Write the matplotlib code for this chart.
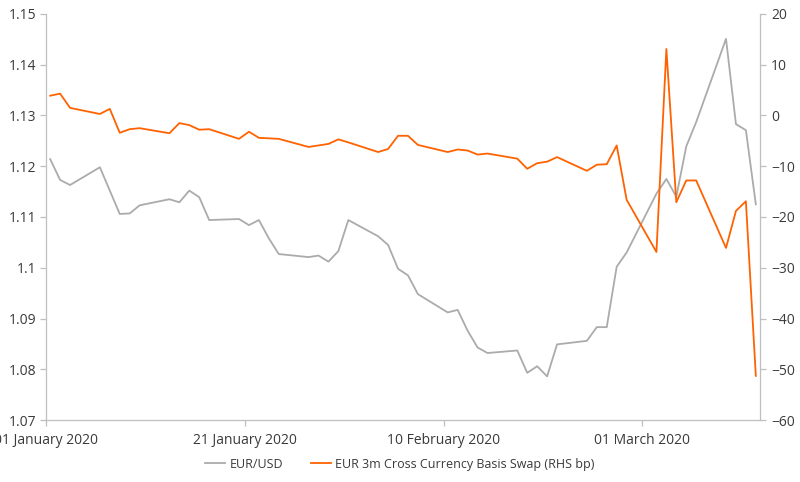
import matplotlib
matplotlib.use("Agg")
import matplotlib.pyplot as plt
import matplotlib.dates as mdates
import numpy as np
import datetime as dt

plt.rcParams['font.family'] = ['Open Sans', 'DejaVu Sans']

dates = [
    "2020-01-01", "2020-01-02", "2020-01-03",
    "2020-01-06", "2020-01-07", "2020-01-08", "2020-01-09", "2020-01-10",
    "2020-01-13", "2020-01-14", "2020-01-15", "2020-01-16", "2020-01-17",
    "2020-01-20", "2020-01-21", "2020-01-22", "2020-01-23", "2020-01-24",
    "2020-01-27", "2020-01-28", "2020-01-29", "2020-01-30", "2020-01-31",
    "2020-02-03", "2020-02-04", "2020-02-05", "2020-02-06", "2020-02-07",
    "2020-02-10", "2020-02-11", "2020-02-12", "2020-02-13", "2020-02-14",
    "2020-02-17", "2020-02-18", "2020-02-19", "2020-02-20", "2020-02-21",
    "2020-02-24", "2020-02-25", "2020-02-26", "2020-02-27", "2020-02-28",
    "2020-03-02", "2020-03-03", "2020-03-04", "2020-03-05", "2020-03-06",
    "2020-03-09", "2020-03-10", "2020-03-11", "2020-03-12",
]

eurusd = [
    1.1214, 1.1173, 1.1163,
    1.1198, 1.1152, 1.1106, 1.1107, 1.1123,
    1.1135, 1.1129, 1.1152, 1.1139, 1.1094,
    1.1096, 1.1084, 1.1094, 1.1058, 1.1027,
    1.1021, 1.1024, 1.1012, 1.1033, 1.1094,
    1.1062, 1.1045, 1.0998, 1.0985, 1.0948,
    1.0912, 1.0917, 1.0876, 1.0843, 1.0832,
    1.0837, 1.0793, 1.0806, 1.0786, 1.0849,
    1.0856, 1.0883, 1.0883, 1.1002, 1.1030,
    1.1146, 1.1175, 1.1140, 1.1239, 1.1287,
    1.1451, 1.1283, 1.1271, 1.1125,
]

basis = [
    3.9, 4.3, 1.5,
    0.3, 1.3, -3.4, -2.7, -2.5,
    -3.5, -1.5, -1.9, -2.8, -2.7,
    -4.6, -3.2, -4.4, -4.5, -4.6,
    -6.2, -5.9, -5.6, -4.7, -5.3,
    -7.2, -6.6, -4.0, -4.0, -5.8,
    -7.2, -6.7, -6.9, -7.7, -7.5,
    -8.5, -10.5, -9.4, -9.1, -8.2,
    -10.9, -9.7, -9.6, -5.9, -16.6,
    -26.9, 13.1, -17.1, -12.8, -12.8,
    -26.1, -18.8, -16.9, -51.3,
]

xtick_dates = ["2020-01-01", "2020-01-21", "2020-02-10", "2020-03-01"]
left_ticks = [1.07, 1.08, 1.09, 1.10, 1.11, 1.12, 1.13, 1.14, 1.15]
left_labels = ["1.07", "1.08", "1.09", "1.1", "1.11", "1.12", "1.13", "1.14", "1.15"]
right_ticks = [-60, -50, -40, -30, -20, -10, 0, 10, 20]

GREY = "#ababab"
ORANGE = "#ff6200"
SPINE = "#bfbfbf"
TXT = "#3a3a3a"

x = mdates.date2num([dt.datetime.strptime(d, "%Y-%m-%d") for d in dates])
xt = mdates.date2num([dt.datetime.strptime(d, "%Y-%m-%d") for d in xtick_dates]) - 0.42

fig = plt.figure(figsize=(8, 4.82), dpi=100)
ax = fig.add_axes([0.0575, 0.1286, 0.8925, 0.8424])
ax2 = ax.twinx()

l1, = ax.plot(x, eurusd, color=GREY, lw=1.3, label="EUR/USD")
l2, = ax2.plot(x, basis, color=ORANGE, lw=1.3, label="EUR 3m Cross Currency Basis Swap (RHS bp)")

ax.set_xlim(x[0] - 0.42, x[-1] + 0.42)
ax.set_ylim(1.07, 1.15)
ax2.set_ylim(-60, 20)

ax.set_xticks(xt)
ax.set_xticklabels([dt.datetime.strptime(d, "%Y-%m-%d").strftime("%d %B %Y") for d in xtick_dates])
ax.set_yticks(left_ticks)
ax.set_yticklabels(left_labels)
ax2.set_yticks(right_ticks)

for a in (ax, ax2):
    a.spines['top'].set_visible(False)
    for s in ('left', 'right', 'bottom'):
        a.spines[s].set_color(SPINE)
        a.spines[s].set_linewidth(0.9)
    a.tick_params(colors=SPINE, labelcolor=TXT, labelsize=10, length=4, width=0.9)
ax.spines['right'].set_visible(False)
ax2.spines['left'].set_visible(False)
ax2.spines['bottom'].set_visible(False)
ax.tick_params(axis='x', pad=5)
ax.tick_params(axis='y', pad=3)
ax2.tick_params(axis='y', pad=4)

fig.legend(handles=[l1, l2], loc='center', bbox_to_anchor=(0.5, 0.037), ncol=2,
           frameon=False, fontsize=9.0, handlelength=1.6, columnspacing=2.2,
           labelcolor=TXT, handletextpad=0.35)

fig.savefig("out.png", dpi=100)
